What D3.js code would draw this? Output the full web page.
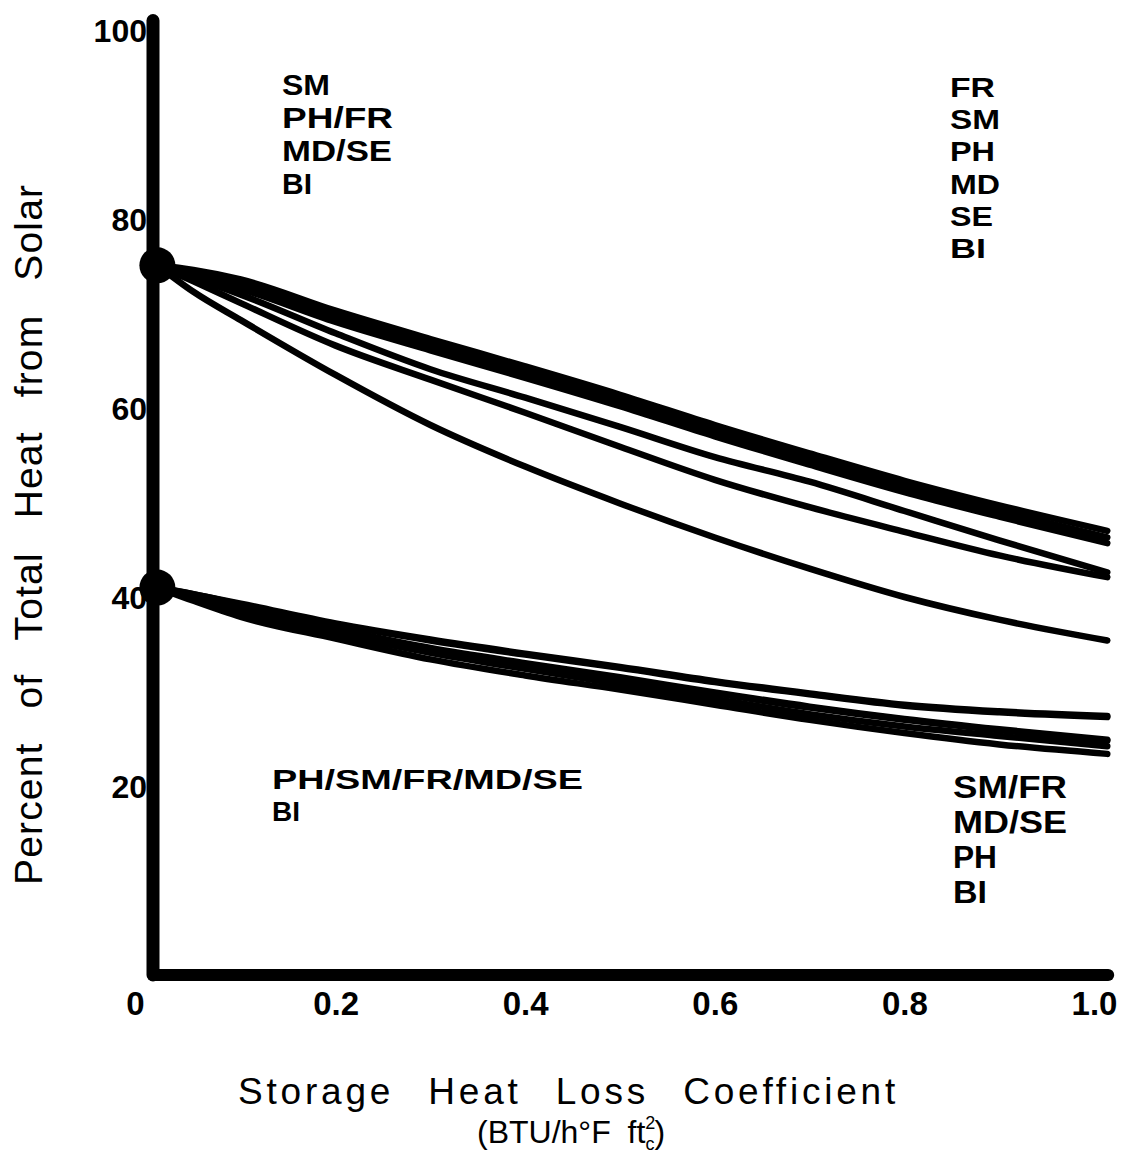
<!DOCTYPE html>
<html><head><meta charset="utf-8">
<script src="https://cdn.jsdelivr.net/npm/d3@7"></script>
<style>
body{margin:0;background:#fff;}
svg{display:block;}
text{font-family:"Liberation Sans",Arial,Helvetica,sans-serif;fill:#000;}
</style></head><body>
<svg id="c" width="1125" height="1162"></svg>
<script>
// ---- data ----
const xPoints = [0.012, 0.05, 0.1, 0.2, 0.3, 0.4, 0.5, 0.6, 0.7, 0.8, 0.9, 1.014];

// upper family (start ~75 %)
const upFR = [75.1, 74.6, 73.6, 70.3, 67.3, 64.4, 61.4, 58.2, 55.2, 52.3, 49.7, 47.0];
const upSM = [75.1, 74.3, 73.1, 69.7, 66.7, 63.8, 60.8, 57.6, 54.6, 51.7, 49.1, 46.3];
const upPH = [75.1, 74.0, 72.6, 69.1, 66.1, 63.2, 60.2, 57.0, 54.0, 51.1, 48.5, 45.7];
const upMD = [75.1, 73.8, 72.0, 67.9, 64.1, 61.1, 58.0, 54.8, 52.2, 49.1, 46.0, 42.6];
const upSE = [75.1, 73.4, 71.1, 66.6, 63.0, 59.5, 55.9, 52.4, 49.5, 46.9, 44.4, 42.1];
const upBI = [75.1, 72.3, 69.3, 63.5, 58.2, 53.8, 49.9, 46.3, 43.0, 40.0, 37.6, 35.4];

// lower family (start ~41 %)
const loSM = [41.0, 40.3, 39.2, 37.1, 35.4, 33.9, 32.5, 31.0, 29.7, 28.5, 27.8, 27.3];
const loFR = [41.0, 40.3, 39.3, 37.2, 35.5, 34.0, 32.6, 31.1, 29.8, 28.6, 27.9, 27.4];
const loMD = [41.0, 40.1, 38.7, 36.6, 34.6, 33.0, 31.5, 29.9, 28.4, 27.1, 26.0, 24.9];
const loSE = [41.0, 40.1, 38.6, 36.5, 34.5, 32.9, 31.4, 29.8, 28.3, 27.0, 25.9, 24.8];
const loPH = [41.0, 39.9, 38.3, 36.1, 34.1, 32.4, 30.8, 29.2, 27.6, 26.3, 25.3, 24.2];
const loBI = [41.0, 39.6, 37.9, 35.6, 33.4, 31.7, 30.2, 28.6, 27.0, 25.6, 24.4, 23.4];

const startValues = [75.1, 41.0];

const xTicks = [0, 0.2, 0.4, 0.6, 0.8, 1.0];
const xTickLabels = ["0", "0.2", "0.4", "0.6", "0.8", "1.0"];
const yTicks = [20, 40, 60, 80, 100];
const yTickLabels = ["20", "40", "60", "80", "100"];

const upperLeftLabels = ["SM", "PH/FR", "MD/SE", "BI"];
const upperRightLabels = ["FR", "SM", "PH", "MD", "SE", "BI"];
const lowerLeftLabels = ["PH/SM/FR/MD/SE", "BI"];
const lowerRightLabels = ["SM/FR", "MD/SE", "PH", "BI"];

const yTitle = "Percent of Total Heat from Solar";
const xTitle = "Storage Heat Loss Coefficient";
const xUnitMain = "(BTU/h°F ft";
const xUnitSup = "2";
const xUnitSub = "c";

// ---- drawing ----
const svg = d3.select("#c");
svg.append("rect").attr("width", 1125).attr("height", 1162).attr("fill", "#fff");

const x = d3.scaleLinear().domain([0, 1]).range([146, 1094]);
const y = d3.scaleLinear().domain([0, 100]).range([975, 30]);

const series = [upFR, upSM, upPH, upMD, upSE, upBI, loSM, loFR, loMD, loSE, loPH, loBI];
const line = d3.line()
  .x((d, i) => x(xPoints[i]))
  .y(d => y(d))
  .curve(d3.curveMonotoneX);

svg.append("g").selectAll("path").data(series).join("path")
  .attr("d", d => line(d))
  .attr("fill", "none")
  .attr("stroke", "#000")
  .attr("stroke-width", 6.5)
  .attr("stroke-linejoin", "round")
  .attr("stroke-linecap", "round");

// axis lines
const axisX0 = x(0) + 7;
svg.append("line")
  .attr("x1", axisX0).attr("x2", axisX0)
  .attr("y1", y(0)).attr("y2", y(101))
  .attr("stroke", "#000").attr("stroke-width", 13).attr("stroke-linecap", "round");
svg.append("line")
  .attr("x1", axisX0).attr("x2", x(1.015))
  .attr("y1", y(0)).attr("y2", y(0))
  .attr("stroke", "#000").attr("stroke-width", 12).attr("stroke-linecap", "round");

// start dots
svg.append("g").selectAll("circle").data(startValues).join("circle")
  .attr("cx", x(xPoints[0]))
  .attr("cy", d => y(d))
  .attr("r", 18)
  .attr("fill", "#000");

// y axis ticks
const yAxis = d3.axisLeft(y).tickValues(yTicks)
  .tickFormat((d, i) => yTickLabels[i]).tickSize(0).tickPadding(6);
const gy = svg.append("g").attr("transform", `translate(${axisX0},0)`).call(yAxis);
gy.select(".domain").remove();
gy.selectAll("text").attr("font-size", 32).attr("font-weight", "bold")
  .attr("font-family", "Liberation Sans, Arial, sans-serif")
  .attr("dy", "0.36em");

// x axis ticks
const xAxis = d3.axisBottom(x).tickValues(xTicks)
  .tickFormat((d, i) => xTickLabels[i]).tickSize(0).tickPadding(17);
const gx = svg.append("g").attr("transform", `translate(0,${y(0)})`).call(xAxis);
gx.select(".domain").remove();
gx.selectAll("text").attr("font-size", 33).attr("font-weight", "bold")
  .attr("font-family", "Liberation Sans, Arial, sans-serif")
  .attr("dx", d => d === 0 ? -11 : 0);

// stacked series labels (separate text elements, widened to the original lettering)
function stack(labels, x0, y0, step, size, widths) {
  svg.append("g").selectAll("text").data(labels).join("text")
    .attr("x", x0)
    .attr("y", (d, i) => y0 + i * step)
    .attr("font-size", size)
    .attr("font-weight", "bold")
    .attr("textLength", (d, i) => widths[i])
    .attr("lengthAdjust", "spacingAndGlyphs")
    .text(d => d);
}
stack(upperLeftLabels, 282, 95, 33, 29.5, [48, 111, 110, 30]);
stack(upperRightLabels, 950, 97, 32.2, 28.5, [45, 50, 45, 50, 43, 36]);
stack(lowerLeftLabels, 272, 789, 31.5, 28, [311, 28]);
stack(lowerRightLabels, 953, 798, 35, 31, [114, 114, 44, 34]);

// y title
svg.append("text")
  .attr("transform", `translate(42,535) rotate(-90)`)
  .attr("text-anchor", "middle")
  .attr("font-size", 39)
  .attr("word-spacing", 22)
  .attr("textLength", 700)
  .attr("lengthAdjust", "spacing")
  .text(yTitle);

// x title
svg.append("text")
  .attr("x", 238).attr("y", 1104)
  .attr("font-size", 37)
  .attr("letter-spacing", 3.8)
  .attr("word-spacing", 20)
  .text(xTitle);

// unit line
const u = svg.append("text").attr("x", 477).attr("y", 1143).attr("font-size", 32).attr("word-spacing", 8);
u.append("tspan").text(xUnitMain);
u.append("tspan").attr("font-size", 18).attr("dy", -14).text(xUnitSup);
u.append("tspan").attr("font-size", 18).attr("dx", -10).attr("dy", 21).text(xUnitSub);
u.append("tspan").attr("dy", -7).text(")");
</script>
</body></html>
